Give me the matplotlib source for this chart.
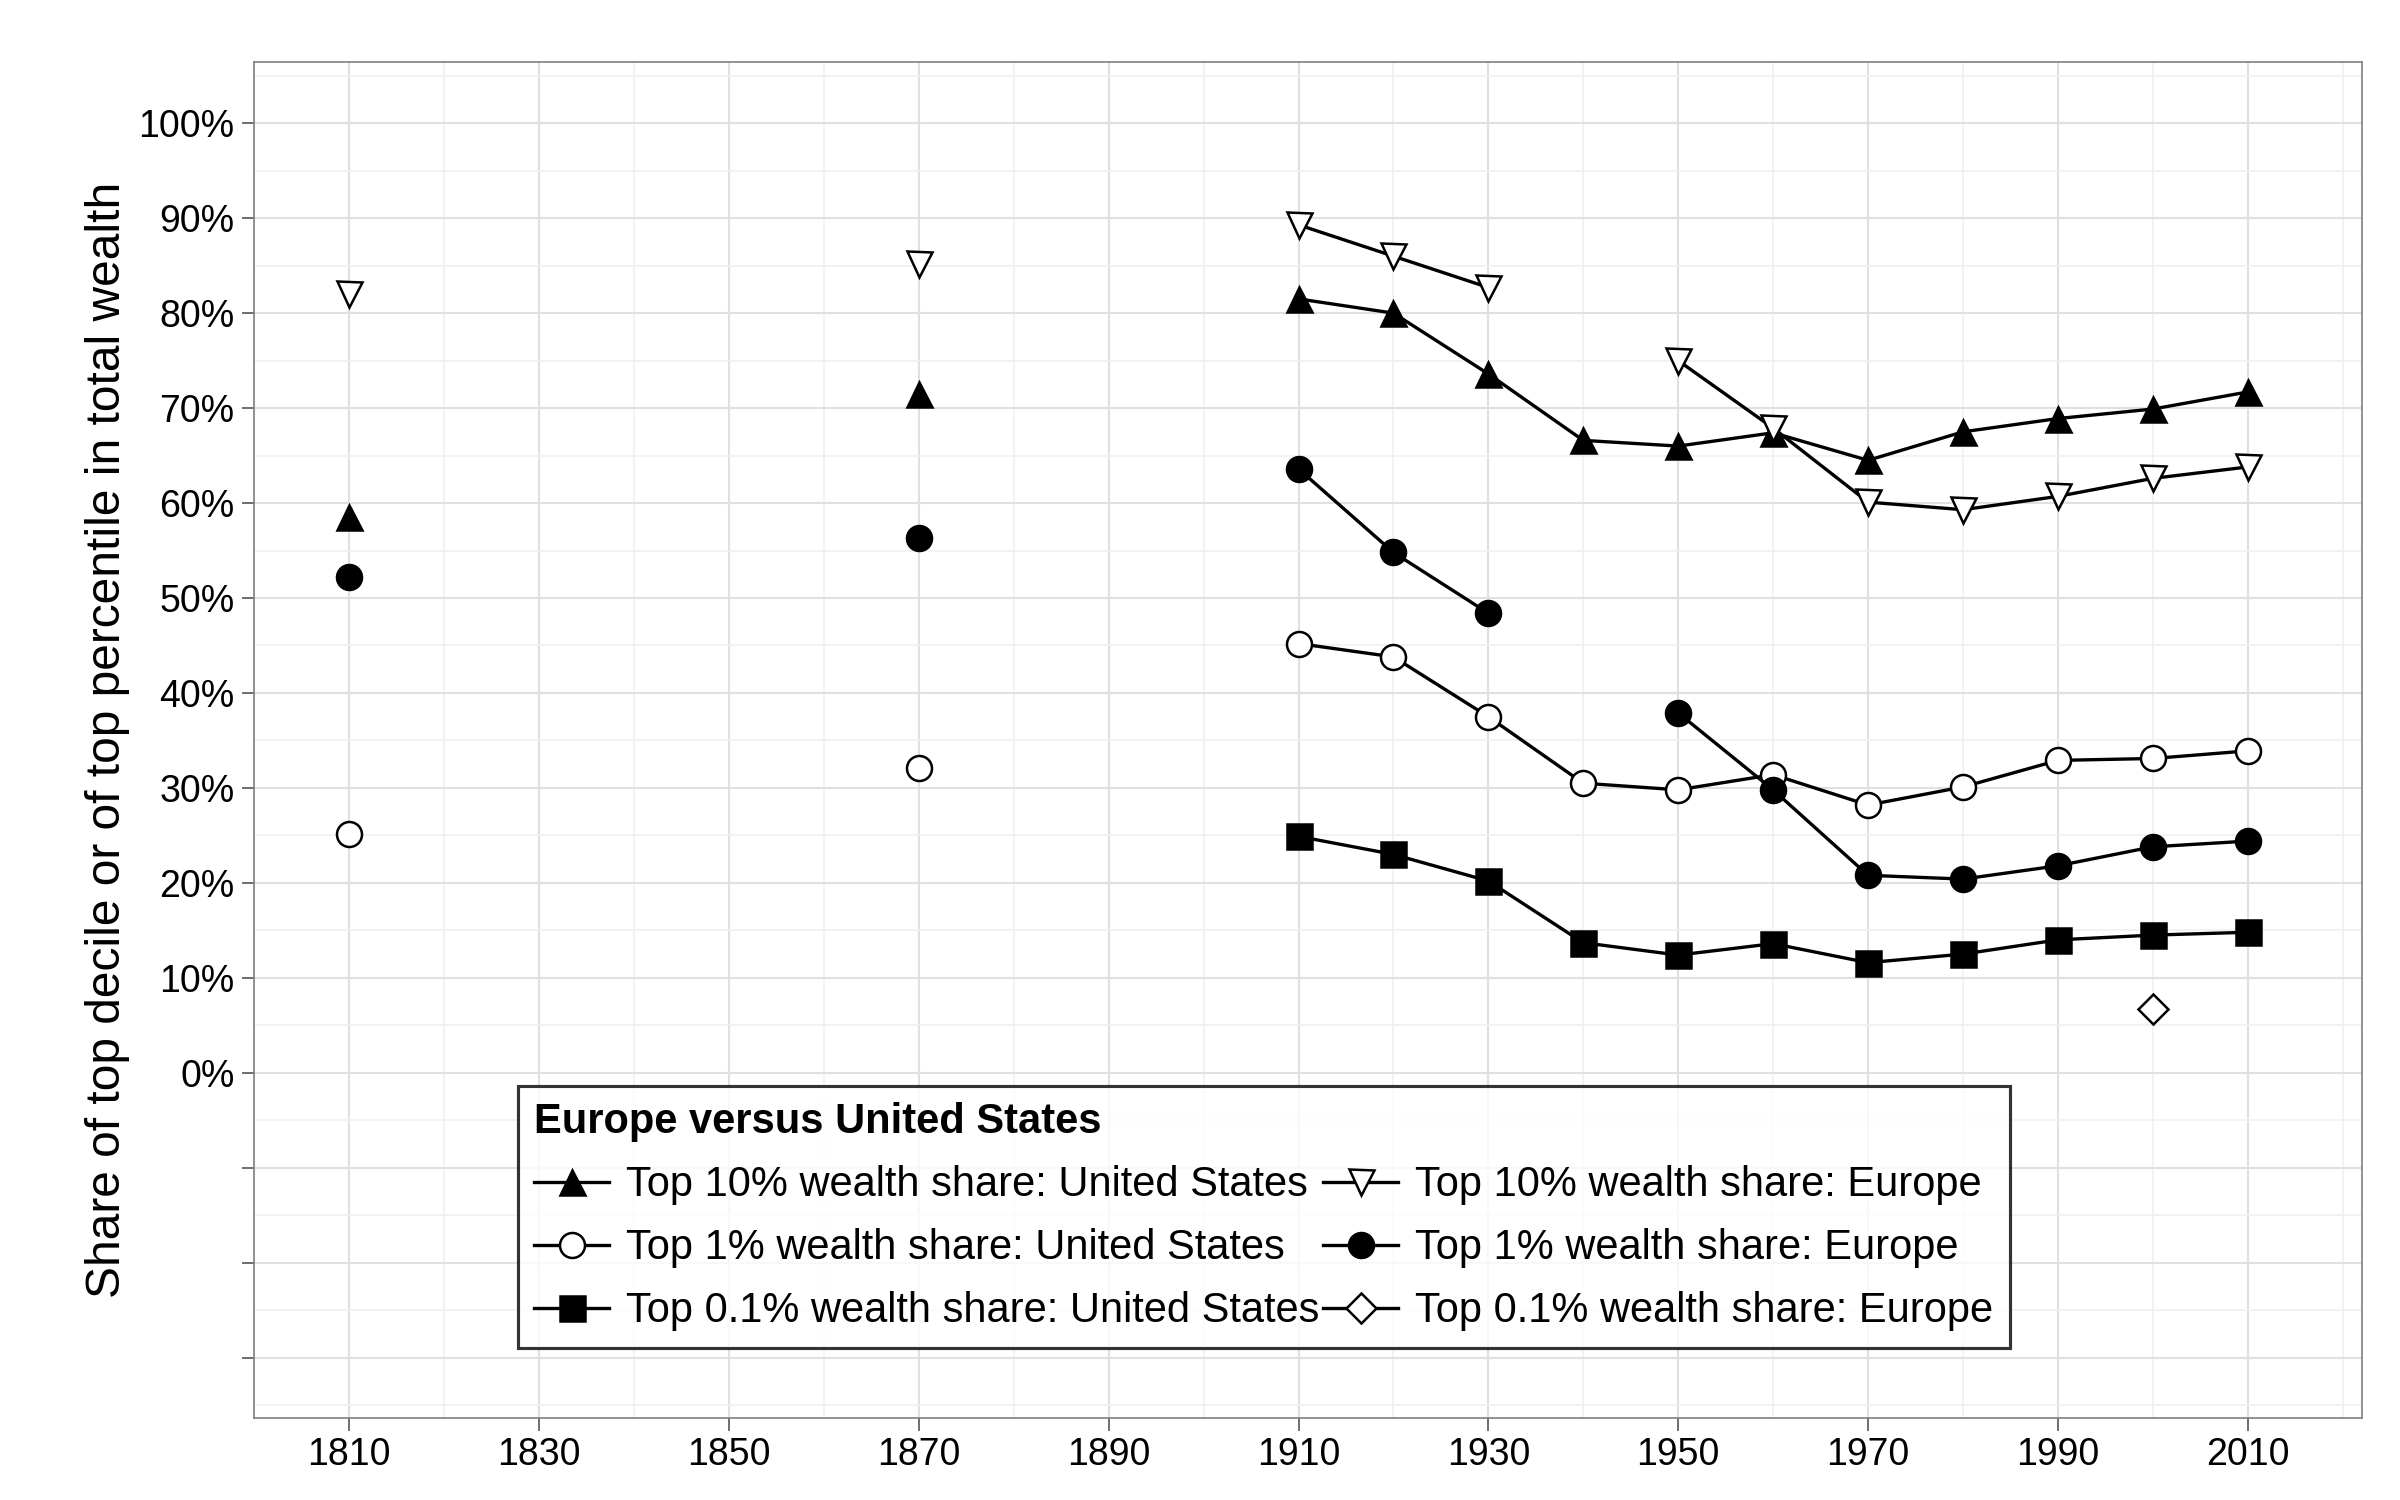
import numpy as np
import matplotlib.pyplot as plt
from matplotlib.ticker import MultipleLocator, FuncFormatter

plt.rcParams['font.family'] = ['Liberation Sans', 'DejaVu Sans']

nan = np.nan
years = [1810, 1870, 1910, 1920, 1930, 1940, 1950, 1960, 1970, 1980, 1990, 2000, 2010]
us_top10 = [58.5, 71.5, 81.5, 80.0, 73.6, 66.6, 66.0, 67.4, 64.5, 67.5, 68.9, 69.9, 71.7]
eu_top10 = [82.0, 85.2, 89.3, 86.0, 82.7, nan, 75.0, 67.9, 60.1, 59.3, 60.7, 62.6, 63.8]
us_top1 = [25.1, 32.1, 45.2, 43.8, 37.5, 30.5, 29.8, 31.4, 28.2, 30.1, 32.9, 33.1, 33.9]
eu_top1 = [52.2, 56.3, 63.6, 54.8, 48.4, nan, 37.9, 29.8, 20.8, 20.4, 21.8, 23.8, 24.4]
us_top01 = [nan, nan, 24.9, 23.0, 20.2, 13.7, 12.4, 13.6, 11.6, 12.5, 14.0, 14.5, 14.8]
eu_top01 = [nan, nan, nan, nan, nan, nan, nan, nan, nan, nan, nan, 6.7, nan]

series = [
    ("Top 10% wealth share: United States", us_top10, '^', 'black'),
    ("Top 1% wealth share: United States", us_top1, 'o', 'white'),
    ("Top 0.1% wealth share: United States", us_top01, 's', 'black'),
    ("Top 10% wealth share: Europe", eu_top10, 'v', 'white'),
    ("Top 1% wealth share: Europe", eu_top1, 'o', 'black'),
    ("Top 0.1% wealth share: Europe", eu_top01, 'D', 'white'),
]

fig = plt.figure(figsize=(16, 10), dpi=150)
ax = fig.add_axes([0.106, 0.055, 0.878, 0.904])

for label, vals, mk, fc in series:
    ms = 12 if mk != 'D' else 10
    # isolated early points are drawn without connecting lines
    ax.plot(years[:2], vals[:2], ls='none', marker=mk, ms=ms, mfc=fc, mec='black', mew=1.2)
    ax.plot(years[2:], vals[2:], color='black', lw=1.6, marker=mk, ms=ms, mfc=fc,
            mec='black', mew=1.2, label=label)

ax.set_xlim(1800, 2022)
ax.set_ylim(-36.3, 106.5)
ax.set_xticks(range(1810, 2011, 20))
ax.xaxis.set_minor_locator(MultipleLocator(10))
ax.set_yticks(range(-30, 101, 10))
ax.yaxis.set_minor_locator(MultipleLocator(5))
ax.yaxis.set_major_formatter(FuncFormatter(lambda v, p: f"{int(v)}%" if v >= 0 else ""))
ax.grid(which='major', color='#e0e0e0', lw=1.0)
ax.grid(which='minor', color='#f0f0f0', lw=0.8)
ax.set_axisbelow(True)
ax.tick_params(labelsize=18, length=6, color='#555555')
ax.tick_params(which='minor', length=0)
for t in ax.yaxis.get_major_ticks():
    if t.get_loc() < 0:
        t.tick1line.set_visible(False)
for sp in ax.spines.values():
    sp.set_edgecolor('#7f7f7f')
ax.set_ylabel("Share of top decile or of top percentile in total wealth", fontsize=23)

leg = ax.legend(loc='lower left', bbox_to_anchor=(0.115, 0.036), ncol=2, fontsize=20,
                title="Europe versus United States", title_fontproperties={'weight': 'bold', 'size': 20},
                frameon=True, fancybox=False, edgecolor='black', handlelength=1.8,
                columnspacing=0.1, handletextpad=0.4, labelspacing=0.55, alignment='left')
leg.get_frame().set_linewidth(1.5)

fig.savefig("out.png", dpi=150)
